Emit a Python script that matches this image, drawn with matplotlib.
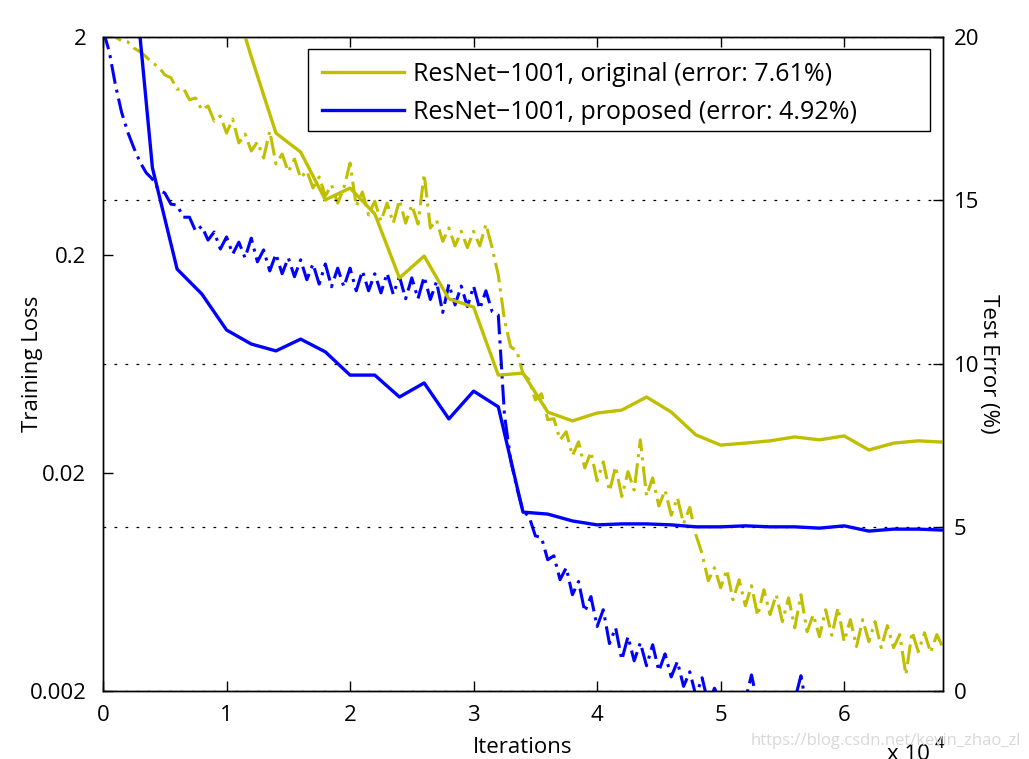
import numpy as np
import matplotlib
matplotlib.use('Agg')
import matplotlib.pyplot as plt
from matplotlib.patches import Rectangle

plt.rcParams['font.family'] = ['Open Sans', 'DejaVu Sans']

# ---------------- data ----------------
train_iters = np.arange(0, 68001, 500)

loss_original = [
    2.10, 2.06, 2.00, 1.92, 1.90, 1.78, 1.71, 1.62, 1.52, 1.46,
    1.34, 1.30, 1.15, 1.17, 1.03, 1.05, 0.925, 0.965, 0.823, 0.868,
    0.725, 0.84, 0.653, 0.718, 0.600, 0.660, 0.557, 0.741, 0.523, 0.581,
    0.481, 0.551, 0.451, 0.486, 0.406, 0.456, 0.373, 0.419, 0.346, 0.406,
    0.528, 0.335, 0.389, 0.305, 0.353, 0.286, 0.346, 0.280, 0.357, 0.280,
    0.339, 0.277, 0.47, 0.266, 0.289, 0.231, 0.266, 0.220, 0.257, 0.216,
    0.257, 0.220, 0.277, 0.216, 0.162, 0.101, 0.0758, 0.0727, 0.0570, 0.0535,
    0.0433, 0.0462, 0.0351, 0.0355, 0.0284, 0.0309, 0.0240, 0.0278, 0.0211, 0.0250,
    0.0184, 0.0225, 0.0165, 0.0214, 0.0156, 0.0203, 0.0167, 0.0284, 0.0157, 0.0190,
    0.0141, 0.0167, 0.0128, 0.0154, 0.0117, 0.0139, 0.0104, 0.00852, 0.00641, 0.00735,
    0.00595, 0.00720, 0.00524, 0.00648, 0.00492, 0.00608, 0.00443, 0.00583, 0.00448, 0.00553,
    0.00416, 0.00535, 0.00390, 0.00553, 0.00374, 0.00448, 0.00355, 0.00472, 0.00360, 0.00482,
    0.00337, 0.00425, 0.00320, 0.00425, 0.00337, 0.00416, 0.00316, 0.00399, 0.00316, 0.00363,
    0.00237, 0.00374, 0.00303, 0.00370, 0.00300, 0.00363, 0.00316,
]

loss_proposed = [
    2.15, 1.72, 1.21, 0.905, 0.733, 0.619, 0.533, 0.476, 0.446, 0.397,
    0.385, 0.342, 0.339, 0.298, 0.298, 0.257, 0.271, 0.234, 0.255, 0.213,
    0.242, 0.202, 0.229, 0.194, 0.239, 0.186, 0.211, 0.169, 0.202, 0.164,
    0.194, 0.159, 0.190, 0.154, 0.182, 0.147, 0.182, 0.143, 0.174, 0.143,
    0.174, 0.137, 0.169, 0.137, 0.164, 0.134, 0.165, 0.132, 0.159, 0.126,
    0.157, 0.126, 0.159, 0.125, 0.151, 0.109, 0.147, 0.118, 0.144, 0.116,
    0.144, 0.113, 0.137, 0.110, 0.106, 0.0370, 0.0230, 0.0171, 0.0134, 0.0126,
    0.0103, 0.0101, 0.00800, 0.00834, 0.00648, 0.00735, 0.00553, 0.00636, 0.00462, 0.00542,
    0.00395, 0.00472, 0.00330, 0.00390, 0.00278, 0.00355, 0.00275, 0.00333, 0.00261, 0.00326,
    0.00247, 0.00296, 0.00232, 0.00273, 0.00210, 0.00245, 0.00190, 0.00230, 0.00175, 0.00206,
    0.00182, 0.00161, 0.00192, 0.00157, 0.00182, 0.00237, 0.00173, 0.00152, 0.00182, 0.00161,
    0.00186, 0.00157, 0.00182, 0.00235, 0.00164, 0.00182, 0.00152, 0.00179, 0.00161, 0.00182,
    0.00157, 0.00175, 0.00152, 0.00177, 0.00159, 0.00182, 0.00155, 0.00177, 0.00161, 0.00186,
    0.00159, 0.00182, 0.00155, 0.00175, 0.00161, 0.00180, 0.00159,
]

test_iters_original = np.arange(10000, 68001, 2000)
err_original = [
    21.9, 19.4, 17.06, 16.48, 15.02, 15.38, 14.59, 12.63, 13.30, 11.99,
    11.74, 9.66, 9.72, 8.53, 8.26, 8.50, 8.59, 8.99, 8.53, 7.83,
    7.52, 7.58, 7.65, 7.77, 7.68, 7.80, 7.37, 7.58, 7.65, 7.61,
]

test_iters_proposed = np.arange(2000, 68001, 2000)
err_proposed = [
    24.0, 16.0, 12.9, 12.14, 11.04, 10.61, 10.40, 10.76, 10.37, 9.66,
    9.66, 8.99, 9.42, 8.32, 9.17, 8.69, 5.47, 5.41, 5.20, 5.08,
    5.11, 5.11, 5.08, 5.02, 5.02, 5.05, 5.02, 5.02, 4.98, 5.05,
    4.89, 4.95, 4.95, 4.92,
]

x_ticks = [0, 10000, 20000, 30000, 40000, 50000, 60000]
x_tick_labels = ['0', '1', '2', '3', '4', '5', '6']
left_ticks = [0.002, 0.02, 0.2, 2]
left_tick_labels = ['0.002', '0.02', '0.2', '2']
right_ticks = [0, 5, 10, 15, 20]
legend_labels = ['ResNet\u22121001, original (error: 7.61%)',
                 'ResNet\u22121001, proposed (error: 4.92%)']

YEL = '#BFBF00'
BLU = '#0000FF'

# ---------------- figure ----------------
fig = plt.figure(figsize=(10.29, 7.59), dpi=100)
ax = fig.add_axes([0.1001, 0.0896, 0.8163, 0.8617])
ax2 = ax.twinx()

dd = (0, (6.5, 2, 1, 2))
ax.plot(train_iters, loss_original, color=YEL, lw=2.2, linestyle=dd)
ax.plot(train_iters, loss_proposed, color=BLU, lw=2.2, linestyle=dd)
ax.set_yscale('log')
ax.set_ylim(0.002, 2)
ax.set_xlim(0, 68000)
ax.set_yticks(left_ticks)
ax.set_yticklabels(left_tick_labels)
ax.yaxis.set_minor_locator(matplotlib.ticker.NullLocator())
ax.set_xticks(x_ticks)
ax.set_xticklabels(x_tick_labels)

l1, = ax2.plot(test_iters_original, err_original, color=YEL, lw=2.4)
l2, = ax2.plot(test_iters_proposed, err_proposed, color=BLU, lw=2.4)
ax2.set_ylim(0, 20)
ax2.set_yticks(right_ticks)
ax2.grid(axis='y', linestyle=(0, (2.2, 6.6)), color='black', lw=0.9)

for a in (ax, ax2):
    for s in a.spines.values():
        s.set_linewidth(1.0)
ax.tick_params(axis='both', which='both', direction='in', length=7,
               labelsize=16, top=True, width=1.0)
ax.tick_params(axis='y', pad=12)
ax.tick_params(axis='x', pad=10)
ax2.tick_params(axis='y', direction='in', length=7, labelsize=16, pad=8, width=1.0)

ax.set_ylabel('Training Loss', fontsize=16, labelpad=-10)
ax2.set_ylabel('Test Error (%)', fontsize=16, rotation=270, labelpad=14)
ax.set_xlabel('Iterations', fontsize=16, labelpad=8)

# legend box (MATLAB style, wide right margin)
box = Rectangle((0.2440, 0.8563), 0.9845 - 0.2440, 0.9817 - 0.8563,
                transform=ax2.transAxes, facecolor='white', edgecolor='black',
                lw=1.0, zorder=4)
ax2.add_patch(box)
leg = ax2.legend([l1, l2], legend_labels, loc='upper left',
                 bbox_to_anchor=(0.2607, 0.9624), fontsize=18,
                 frameon=False, handlelength=3.3, handletextpad=0.35,
                 borderpad=0.0, labelspacing=0.54, borderaxespad=0)
leg.set_zorder(5)

fig.text(0.862, 1 - 744 / 759, 'x 10', fontsize=16, ha='left', va='top')
fig.text(0.908, 1 - 752 / 759, '4', fontsize=12, ha='left', va='bottom')
fig.text(0.992, 1 - 741 / 759, 'https://blog.csdn.net/kevin_zhao_zl', fontsize=12,
         color='#d8d8d8', ha='right', va='center')

fig.savefig('out.png', dpi=100)
